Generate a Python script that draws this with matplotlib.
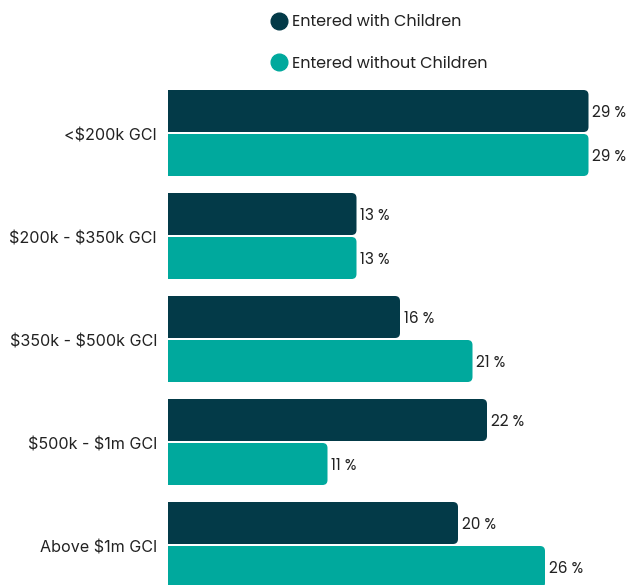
import matplotlib
matplotlib.use("Agg")
import matplotlib.pyplot as plt
from matplotlib.patches import FancyBboxPatch
from matplotlib.lines import Line2D

categories = ["<$200k GCI", "$200k - $350k GCI", "$350k - $500k GCI",
              "$500k - $1m GCI", "Above $1m GCI"]
with_children = [29, 13, 16, 22, 20]
without_children = [29, 13, 21, 11, 26]
series_names = ["Entered with Children", "Entered without Children"]
colors = ["#033a48", "#00a99d"]

plt.rcParams['font.family'] = ['Poppins', 'Inter', 'DejaVu Sans']

W, H = 627, 585
fig = plt.figure(figsize=(W / 100, H / 100), dpi=100)
ax_left = 168
ax = fig.add_axes([ax_left / W, 0, (W - ax_left) / W, 1])

px_per_unit_x = 14.5
px_per_group = 103
ax.set_xlim(0, (W - ax_left) / px_per_unit_x)
ax.set_ylim((H - 133) / px_per_group, -133 / px_per_group)
ax.axis("off")

bar_h = 42 / px_per_group
off = 22 / px_per_group
r_x = 5 / px_per_unit_x
aspect = px_per_unit_x / px_per_group

for vals, sign, col in [(with_children, -1, colors[0]), (without_children, 1, colors[1])]:
    for i, v in enumerate(vals):
        yc = i + sign * off
        p = FancyBboxPatch((-r_x, yc - bar_h / 2), v + r_x, bar_h,
                           boxstyle=f"round,pad=0,rounding_size={r_x}",
                           mutation_aspect=aspect, facecolor=col, edgecolor="none")
        ax.add_patch(p)
        ax.text(v + 0.25, yc + 0.015, f"{v} %", va="center", ha="left",
                fontsize=11, color="#222222")

# category labels sit a touch below the group centre
for i, c in enumerate(categories):
    ax.text(-11 / px_per_unit_x, i + 0.025, c, va="center", ha="right",
            fontsize=11.6, color="#222222", clip_on=False,
            family=['Inter', 'DejaVu Sans'], parse_math=False)

handles = [Line2D([], [], marker="o", linestyle="none", markersize=12,
                  markerfacecolor=c, markeredgecolor=c) for c in colors]
fig.legend(handles, series_names, loc="upper left",
           bbox_to_anchor=(265 / W, 1 - 8 / H), frameon=False,
           fontsize=11.5, labelspacing=1.6, handletextpad=0.3,
           handlelength=1.0, borderaxespad=0, labelcolor="#222222")

fig.savefig("out.png", dpi=100)
